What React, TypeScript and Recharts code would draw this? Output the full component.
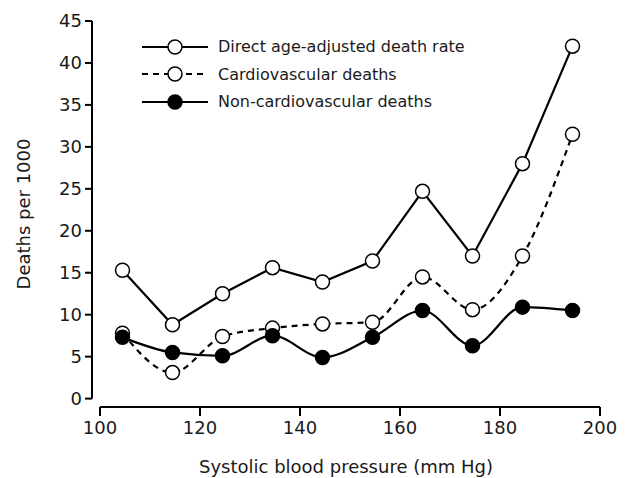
import React from 'react';
import { LineChart, Line, XAxis, YAxis, ReferenceLine, Legend } from 'recharts';

// Systolic BP group midpoints (mm Hg)
const bpGroups = [104.5, 114.5, 124.5, 134.5, 144.5, 154.5, 164.5, 174.5, 184.5, 194.5];
const directRate = [15.3, 8.8, 12.5, 15.6, 13.9, 16.4, 24.7, 17.0, 28.0, 42.0];
const cardioDeaths = [7.8, 3.1, 7.4, 8.4, 8.9, 9.1, 14.5, 10.6, 17.0, 31.5];
const nonCardioDeaths = [7.3, 5.5, 5.1, 7.5, 4.9, 7.3, 10.5, 6.3, 10.9, 10.5];

const xTicks = [100, 120, 140, 160, 180, 200];
const yTicks = [0, 5, 10, 15, 20, 25, 30, 35, 40, 45];

const FONT = '"DejaVu Sans", sans-serif';
const INK = '#1a1a1a';

const series = [
  { key: 'direct', name: 'Direct age-adjusted death rate', dash: undefined, fill: '#fff', type: 'linear' as const },
  { key: 'cardio', name: 'Cardiovascular deaths', dash: '6 5', fill: '#fff', type: 'monotone' as const },
  { key: 'noncardio', name: 'Non-cardiovascular deaths', dash: undefined, fill: '#000', type: 'monotone' as const },
];

const chartData = bpGroups.map((bp, i) => ({
  bp,
  direct: directRate[i],
  cardio: cardioDeaths[i],
  noncardio: nonCardioDeaths[i],
}));

// legend drawn by hand so the marker sits in the middle of the line
const KeyLegend = () => (
  <div style={{ fontFamily: FONT, fontSize: 16, color: INK }}>
    {series.map((s) => (
      <div key={s.key} style={{ display: 'flex', alignItems: 'center', height: 27.5 }}>
        <svg width={70} height={20} style={{ marginRight: 8 }}>
          <line x1={2} y1={10} x2={68} y2={10} stroke="#000" strokeWidth={2.2} strokeDasharray={s.dash} />
          <circle cx={35} cy={10} r={7} fill={s.fill} stroke="#000" strokeWidth={1.5} />
        </svg>
        <span style={{ whiteSpace: 'nowrap' }}>{s.name}</span>
      </div>
    ))}
  </div>
);

export default function App() {
  return (
    <div>
      <style>{`body { margin: 0; }`}</style>
      <LineChart
        width={627}
        height={478}
        data={chartData}
        margin={{ top: 21, right: 27, left: 0, bottom: 0 }}
      >
        <XAxis
          type="number"
          dataKey="bp"
          domain={[98.4, 200]}
          ticks={xTicks}
          axisLine={false}
          tickSize={9}
          tickMargin={5}
          tickLine={{ stroke: '#000', strokeWidth: 2 }}
          tick={{ fill: INK, fontSize: 18, fontFamily: FONT }}
          height={71}
          label={{
            value: 'Systolic blood pressure (mm Hg)',
            position: 'insideBottom',
            offset: 5,
            style: { fill: INK, fontSize: 18, fontFamily: FONT },
          }}
        />
        <YAxis
          type="number"
          domain={[-1, 45]}
          ticks={yTicks}
          axisLine={false}
          tickSize={7}
          tickMargin={3}
          tickLine={{ stroke: '#000', strokeWidth: 2 }}
          tick={{ fill: INK, fontSize: 18, fontFamily: FONT }}
          width={92}
          label={{
            value: 'Deaths per 1000',
            angle: -90,
            position: 'insideLeft',
            offset: 24,
            style: { fill: INK, fontSize: 18, fontFamily: FONT, textAnchor: 'middle' },
          }}
        />

        {/* detached axis lines */}
        <ReferenceLine
          segment={[{ x: 100, y: -1 }, { x: 200, y: -1 }]}
          stroke="#000"
          strokeWidth={2}
          ifOverflow="visible"
        />
        <ReferenceLine
          segment={[{ x: 98.4, y: 0 }, { x: 98.4, y: 45 }]}
          stroke="#000"
          strokeWidth={2}
          ifOverflow="visible"
        />

        <Legend
          layout="horizontal"
          verticalAlign="middle"
          align="center"
          content={() => <KeyLegend />}
          wrapperStyle={{ top: 33, left: 140, width: 360 }}
        />

        {series.map((s) => (
          <Line
            key={s.key}
            type={s.type}
            dataKey={s.key}
            name={s.name}
            stroke="#000"
            strokeWidth={2.2}
            strokeDasharray={s.dash}
            dot={{ r: 7, fill: s.fill, stroke: '#000', strokeWidth: 1.5, strokeDasharray: 'none' }}
            activeDot={false}
            isAnimationActive={false}
          />
        ))}
      </LineChart>
    </div>
  );
}
